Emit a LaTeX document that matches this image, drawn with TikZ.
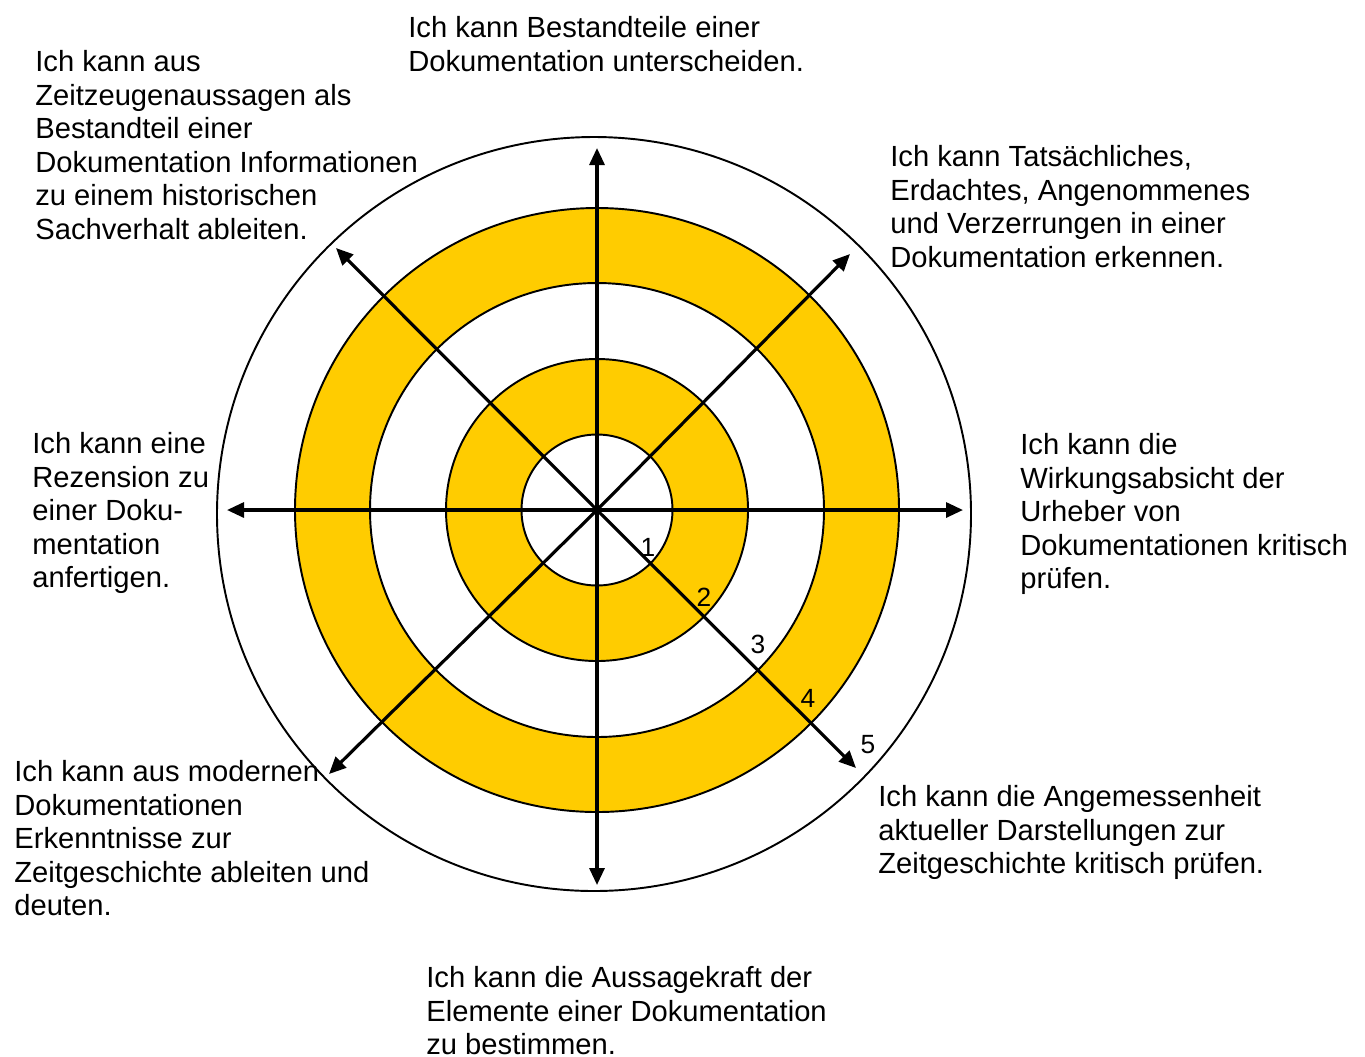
\documentclass[tikz,border=0pt]{standalone}
\usepackage{fontspec}
\setmainfont{Liberation Sans}
\usetikzlibrary{arrows.meta}
\definecolor{RingGold}{HTML}{FFCC00}
\tikzset{
 ring/.style={draw=black, line width=1.1pt},
 axis/.style={-{Triangle[length=3.4mm,width=3mm]}, line width=1.8pt},
 goal/.style={anchor=north west, align=left, inner sep=0pt, font=\fontsize{16.6}{19.1}\selectfont},
 levelnum/.style={inner sep=0pt, font=\fontsize{15}{17}\selectfont}
}

\begin{document}
\begin{tikzpicture}[x=0.02cm,y=-0.02cm]
\useasboundingbox (0,0) rectangle (1365,1056);
\coordinate (c) at (597,510);
\coordinate (rim) at (594,514);
\fill[RingGold, even odd rule] (c) circle[radius=302] circle[radius=227]
  (c) circle[radius=151] circle[radius=75.5];
\foreach \r in {75.5,151,227,302}
  \draw[ring] (c) circle[radius=\r];
\draw[ring] (rim) circle[radius=377];
\foreach \name/\x/\y in {up/597/148, down/597/885, left/227/510, right/963/510,
  ne/850/254, nw/336/248, sw/329/774, se/856/768}{
  \coordinate (\name) at (\x,\y);
  \draw[axis] (c) -- (\name);
}
\foreach \n/\x/\y in {1/648/547, 2/704/597, 3/758/644, 4/808/698, 5/868/745}
  \node[levelnum] (n\n) at (\x,\y) {\n};
\node[goal] (g-up) at (408,16) {Ich kann Bestandteile einer\\Dokumentation unterscheiden.};
\node[goal] (g-nw) at (35,50) {Ich kann aus\\Zeitzeugenaussagen als\\Bestandteil einer\\Dokumentation Informationen\\zu einem historischen\\Sachverhalt ableiten.};
\node[goal] (g-ne) at (890,145) {Ich kann Tatsächliches,\\Erdachtes, Angenommenes\\und Verzerrungen in einer\\Dokumentation erkennen.};
\node[goal] (g-left) at (32,432) {Ich kann eine\\Rezension zu\\einer Doku-\\mentation\\anfertigen.};
\node[goal] (g-right) at (1020,433) {Ich kann die\\Wirkungsabsicht der\\Urheber von\\Dokumentationen kritisch\\prüfen.};
\node[goal] (g-sw) at (14,760) {Ich kann aus modernen\\Dokumentationen\\Erkenntnisse zur\\Zeitgeschichte ableiten und\\deuten.};
\node[goal] (g-se) at (878,785) {Ich kann die Angemessenheit\\aktueller Darstellungen zur\\Zeitgeschichte kritisch prüfen.};
\node[goal] (g-down) at (426,966) {Ich kann die Aussagekraft der\\Elemente einer Dokumentation\\zu bestimmen.};
\end{tikzpicture}
\end{document}
